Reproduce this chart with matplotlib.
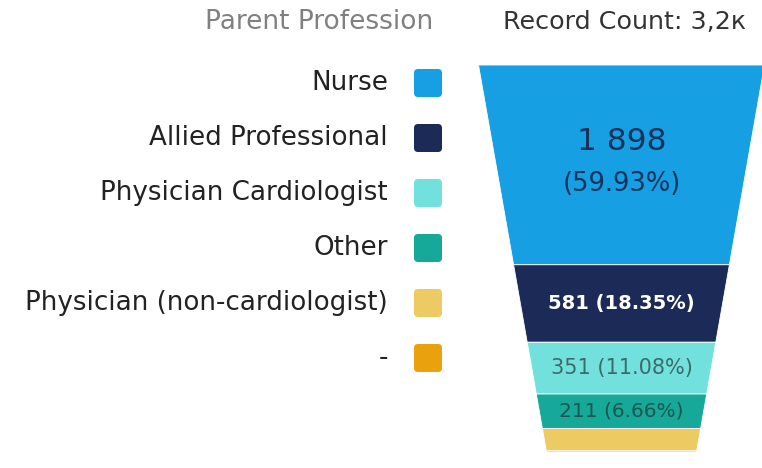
import numpy as np
import matplotlib
matplotlib.use('Agg')
import matplotlib.pyplot as plt
from matplotlib.patches import FancyBboxPatch

# data
categories = ['Nurse', 'Allied Professional', 'Physician Cardiologist', 'Other',
              'Physician (non-cardiologist)', '-']
counts = [1898, 581, 351, 211, 123, 3]
colors = ['#169fe2', '#1b2a56', '#72e1dd', '#16a898', '#eecb62', '#e9a10d']
text_colors = ['#14325a', '#ffffff', '#3a6c6c', '#1c5650', '#555555', '#555555']
title_text = 'Parent Profession'
total_text = 'Record Count: 3,2к'

plt.rcParams['font.family'] = ['DejaVu Sans']

fig = plt.figure(figsize=(7.62, 4.68), dpi=100)
W, H = 762, 468

# background axes in pixel units for legend / titles
bg = fig.add_axes([0, 0, 1, 1])
bg.set_xlim(0, W)
bg.set_ylim(H, 0)
bg.axis('off')

t = bg.text(205, 22, title_text, fontsize=19, color='#808080', ha='left', va='center')
t.set_clip_box(bg.bbox)
bg.text(503, 22, total_text, fontsize=18.3, color='#333333', ha='left', va='center')

# legend
for i, (cat, col) in enumerate(zip(categories, colors)):
    yc = 83 + i * 55
    bg.text(388, yc, cat, fontsize=18.8, color='#222222', ha='right', va='center')
    box = FancyBboxPatch((416, yc - 12), 24, 24, boxstyle='round,pad=2,rounding_size=4',
                         fc=col, ec='none')
    bg.add_patch(box)

# funnel
top, bottom = 65, 452
ax = fig.add_axes([470 / W, (H - bottom) / H, (W - 470) / W, (bottom - top) / H])
ax.axis('off')
cx = 621.5
ax.set_xlim(470 - cx, W - cx)

vals = np.array(counts, dtype=float)
heights = vals ** 0.8
edges = np.concatenate([[0], np.cumsum(heights)])
Htot = edges[-1]
ax.set_ylim(Htot, 0)

hw_top, hw_bot = 143, 75


def half_width(y):
    return hw_top - (hw_top - hw_bot) * y / Htot


for i in range(len(counts)):
    y0, y1 = edges[i], edges[i + 1]
    xs = [-half_width(y0), half_width(y0), half_width(y1), -half_width(y1)]
    ys = [y0, y0, y1, y1]
    ax.fill(xs, ys, color=colors[i], ec='white', lw=0.6, clip_on=False)

pct = vals / vals.sum() * 100
for i in range(4):
    ymid = (edges[i] + edges[i + 1]) / 2
    num = f'{counts[i]:,}'.replace(',', ' ')
    if i == 0:
        ax.annotate(num, (0, ymid), xytext=(0, 17), textcoords='offset points',
                    ha='center', va='center', fontsize=22.5, color=text_colors[i])
        ax.annotate(f'({pct[i]:.2f}%)', (0, ymid), xytext=(0, -14), textcoords='offset points',
                    ha='center', va='center', fontsize=18.5, color=text_colors[i])
    else:
        ax.text(0, ymid, f'{num} ({pct[i]:.2f}%)', ha='center', va='center',
                fontsize=[0, 14, 15, 14.5][i], color=text_colors[i],
                fontweight='bold' if i == 1 else 'normal')

fig.savefig('out.png', dpi=100)
